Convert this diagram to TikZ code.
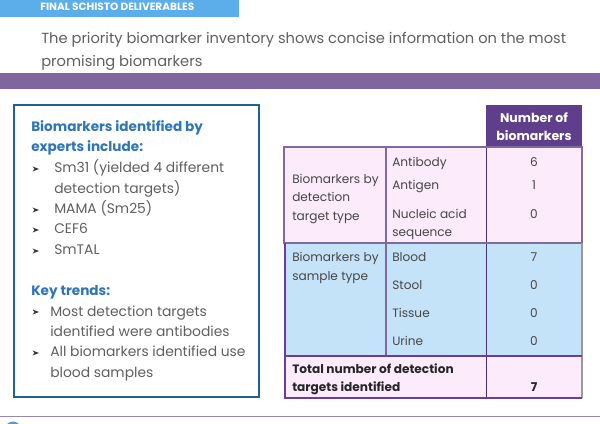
\documentclass[tikz,border=0pt]{standalone}
\usepackage{fontspec}
\setmainfont{Poppins}
\usetikzlibrary{positioning,backgrounds}
\definecolor{headblue}{HTML}{5BAEEA}
\definecolor{bandpurple}{HTML}{80659F}
\definecolor{titlegrey}{HTML}{5F5F5F}
\definecolor{boxblue}{HTML}{1F6391}
\definecolor{keyblue}{HTML}{2E75B6}
\definecolor{darkpurple}{HTML}{5F3F8C}
\definecolor{linepurple}{HTML}{7F6A9C}
\definecolor{thickpurple}{HTML}{6A3D9A}
\definecolor{cellpink}{HTML}{FBEBFB}
\definecolor{cellblue}{HTML}{C5E3F8}
\tikzset{
  celltext/.style={anchor=base west,font=\fontsize{9.1}{12}\selectfont,text=black!72,inner sep=0pt},
  numtext/.style={anchor=base,font=\fontsize{9.1}{12}\selectfont,text=black!72,inner sep=0pt},
  totaltext/.style={font=\fontsize{9.1}{12}\selectfont\bfseries,text=black!85},
  headtext/.style={anchor=base,inner sep=0pt,text=white,font=\fontsize{9.4}{12}\selectfont\bfseries},
  listtext/.style={anchor=base west,font=\fontsize{10.4}{15}\selectfont,text=titlegrey,inner sep=0pt},
  keytext/.style={anchor=base west,font=\fontsize{10.2}{15}\selectfont\bfseries,text=keyblue,inner sep=0pt},
  titletext/.style={anchor=base west,inner sep=0pt,text=titlegrey,font=\fontsize{11}{16}\selectfont},
}
\begin{document}
\begin{tikzpicture}[x=0.75pt,y=-0.75pt]
  \useasboundingbox (0,0) rectangle (600,424);
  % header
  \fill[headblue] (0,0) rectangle (239,17);
  \node[anchor=base west,inner sep=0pt,text=white,font=\fontsize{7.9}{8}\selectfont\bfseries] (banner) at (40,11) {FINAL SCHISTO DELIVERABLES};
  \node[titletext] (titleone) at (41,44) {The priority biomarker inventory shows concise information on the most};
  \node[titletext] (titletwo) at (41,66.5) {promising biomarkers};
  \fill[bandpurple] (0,73) rectangle (600,89);
  % left box
  \draw[boxblue,line width=1.5pt] (14,105) rectangle (259,397);
  \node[keytext] (keyone) at (31,131.7) {Biomarkers identified by};
  \node[keytext] (keytwo) at (31,151.7) {experts include:};
  \node[listtext] (sm) at (54,172.3) {Sm31 (yielded 4 different};
  \node[listtext] (smb) at (54,193.3) {detection targets)};
  \node[listtext] (mama) at (54,213.7) {MAMA (Sm25)};
  \node[listtext] (cef) at (54,233.7) {CEF6};
  \node[listtext] (smtal) at (54,254.7) {SmTAL};
  \node[keytext] (trends) at (31,295) {Key trends:};
  \node[listtext] (most) at (50,316) {Most detection targets};
  \node[listtext] (mostb) at (50,336) {identified were antibodies};
  \node[listtext] (all) at (50,356.7) {All biomarkers identified use};
  \node[listtext] (allb) at (50,377.3) {blood samples};
  \foreach \yy in {169,210,230,251,312,353}
    \fill[black!80] (32.5,\yy-2.5) -- (39,\yy) -- (32.5,\yy+2.5) -- (34.5,\yy) -- cycle;
  % table fills
  \fill[darkpurple] (486,105) rectangle (582,147);
  \fill[cellpink] (284,147) rectangle (582,243);
  \fill[cellblue] (285,243) rectangle (582,356);
  \fill[cellpink] (285,356) rectangle (582,398);
  % table lines
  \draw[linepurple,line width=0.8pt] (386,147) -- (386,356);
  \draw[darkpurple!80!black,line width=0.7pt] (486,147) -- (486,398);
  \draw[linepurple,line width=1.3pt] (284,147) rectangle (582,243);
  \draw[black!40,line width=0.8pt] (582,243) -- (582,398);
  \draw[thickpurple,line width=1.5pt] (285,243) -- (285,398) -- (582,398);
  \draw[thickpurple,line width=1.5pt] (285,356) -- (582,356);
  % table texts
  \node[headtext] (numone) at (534,122.7) {Number of};
  \node[headtext] (numtwo) at (534,140.7) {biomarkers};
  \node[celltext] (detone) at (292,183.3) {Biomarkers by};
  \node[celltext] (dettwo) at (292,201.7) {detection};
  \node[celltext] (detthree) at (292,220) {target type};
  \node[celltext] (antibody) at (392,166.7) {Antibody};
  \node[celltext] (antigen) at (392,190) {Antigen};
  \node[celltext] (nucleic) at (392,218.3) {Nucleic acid};
  \node[celltext] (sequence) at (392,236.7) {sequence};
  \node[numtext] (na) at (534,166.7) {6};
  \node[numtext] (nb) at (534,190) {1};
  \node[numtext] (nc) at (534,218.3) {0};
  \node[celltext] (samone) at (292,261.7) {Biomarkers by};
  \node[celltext] (samtwo) at (292,280) {sample type};
  \node[celltext] (blood) at (392,261.7) {Blood};
  \node[celltext] (stool) at (392,289.3) {Stool};
  \node[celltext] (tissue) at (392,317.7) {Tissue};
  \node[celltext] (urine) at (392,345.3) {Urine};
  \node[numtext] (nd) at (534,261.7) {7};
  \node[numtext] (ne) at (534,289.3) {0};
  \node[numtext] (nf) at (534,317.7) {0};
  \node[numtext] (ng) at (534,345.3) {0};
  \node[celltext,totaltext] (totone) at (292,373.3) {Total number of detection};
  \node[celltext,totaltext] (tottwo) at (292,391.7) {targets identified};
  \node[numtext,totaltext] (nh) at (534,391.7) {7};
  % footer
  \draw[linepurple!80,line width=1pt] (0,416.5) -- (600,416.5);
  \fill[keyblue!75] (13,429.5) circle (8);
\end{tikzpicture}
\end{document}
